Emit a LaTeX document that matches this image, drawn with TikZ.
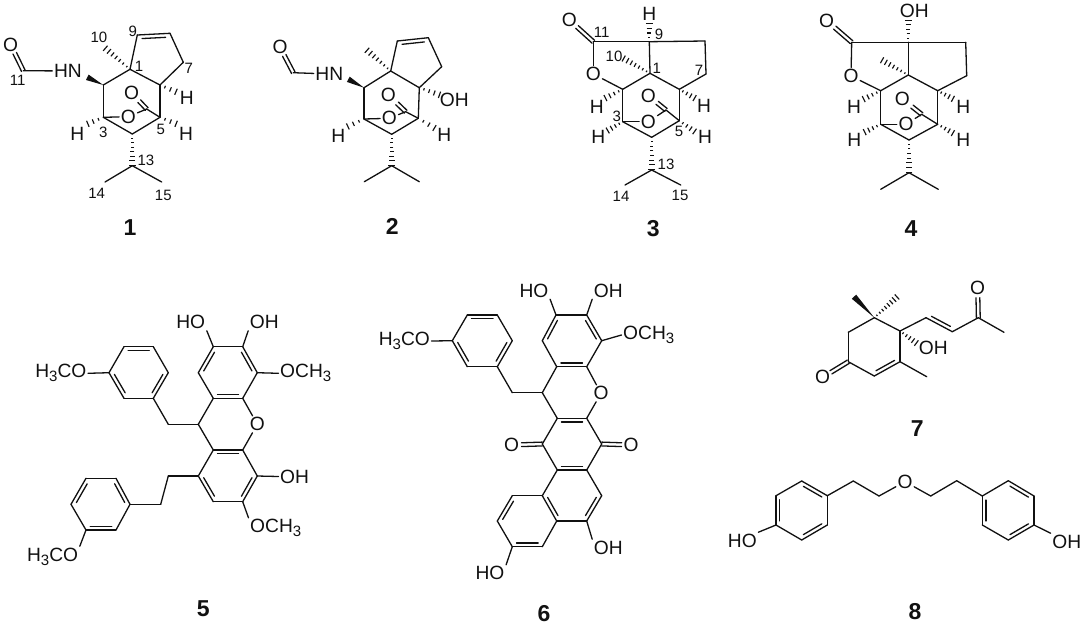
\documentclass[tikz,border=0pt]{standalone}
\usepackage{fontspec}
\setmainfont{Liberation Sans}
\usetikzlibrary{calc}
\definecolor{ink}{HTML}{111111}
\tikzset{
  bond/.style={draw=ink,line width=1.3pt,line cap=round,line join=round},
  tick/.style={draw=ink,line width=1.15pt},
  atom/.style={font=\fontsize{19.2}{21}\selectfont,text=ink,inner sep=1.5pt},
  numlab/.style={font=\fontsize{15}{17}\selectfont,text=ink,inner sep=0pt},
  cpd/.style={font=\bfseries\fontsize{23}{25}\selectfont,text=ink,inner sep=0pt}
}
\newcommand\Cc[3]{\coordinate (#1) at (#2,#3);}
\newcommand\Bd[2]{\draw[bond] (#1) -- (#2);}
\newcommand\Db[3][-90]{\draw[bond] (#2) -- (#3);
  \draw[bond] ($(#2)!.14!(#3)!3.8pt!#1:(#3)$) -- ($(#2)!.86!(#3)!3.8pt!#1:(#3)$);}
\newcommand\Dc[3][.68]{\draw[bond] ($(#2)!0!(#3)!1.9pt!90:(#3)$) -- ($(#2)!#1!(#3)!1.9pt!90:(#3)$);
  \draw[bond] ($(#2)!0!(#3)!1.9pt!-90:(#3)$) -- ($(#2)!#1!(#3)!1.9pt!-90:(#3)$);}
\newcommand\Hs[3]{\foreach \i in {1,...,#3}{
  \pgfmathsetmacro\tt{(\i-0.1)/#3}\pgfmathsetmacro\ww{0.5+2.9*\tt}
  \draw[tick] ($(#1)!\tt!(#2)!\ww pt!90:(#2)$) -- ($(#1)!\tt!(#2)!\ww pt!-90:(#2)$);}}
\newcommand\Wd[2]{\fill[ink] (#1) -- ($(#2)!3pt!90:(#1)$) -- ($(#2)!3pt!-90:(#1)$) -- cycle;}
\newcommand\lowthree{\raisebox{-4pt}{\fontsize{15}{16}\selectfont 3}}
\newcommand\At[4]{\node[atom] (#1) at (#2,#3) {#4};}
\newcommand\Nb[4]{\node[numlab] (#1) at (#2,#3) {#4};}
\newcommand\Lb[4]{\node[cpd] (#1) at (#2,#3) {#4};}
\begin{document}
\begin{tikzpicture}[x=1pt,y=-1pt]
\useasboundingbox (0,0) rectangle (1084,625);
\fill[white] (0,0) rectangle (1084,625);
% ---------- 1
\At{ao}{10.7}{45}{O}\Cc{acf}{23.3}{70.7}\At{ahn}{68}{71}{HN}
\Cc{ac1}{130}{69.3}\Cc{ac2}{103.3}{85}\Cc{ac3}{103.3}{117.3}\Cc{ac4}{132.3}{134}
\Cc{ac5}{160}{117.3}\Cc{ac6}{160}{85}\Cc{ac7}{183.3}{62.3}\Cc{ac8}{170}{33.3}\Cc{ac9}{137.3}{35}
\At{aor}{128.3}{116.7}{O}\At{aoc}{131.7}{93.3}{O}\Cc{acc}{146.7}{109}
\Cc{anw}{87.3}{77.3}\Cc{ame}{105}{48}\Cc{ac13}{132.3}{165.7}\Cc{ac14}{105}{182}\Cc{ac15}{161.7}{182}
\Cc{ah6}{176.5}{92}\Cc{ah5}{176.7}{124}\Cc{ah3}{87.3}{124}
\At{ahr}{186.7}{98}{H}\At{ahs}{186}{133.5}{H}\At{ahl}{77.3}{134}{H}
\Dc{acf}{ao}\Bd{acf}{ahn}\Wd{ac2}{anw}\Bd{ac2}{ac1}\Bd{ac1}{ac9}\Db{ac9}{ac8}\Bd{ac8}{ac7}\Bd{ac7}{ac6}
\Bd{ac6}{ac1}\Bd{ac6}{ac5}\Bd{ac5}{ac4}\Bd{ac4}{ac3}\Bd{ac3}{ac2}\Bd{ac3}{aor}\Bd{aor}{acc}\Dc[.5]{acc}{aoc}\Bd{acc}{ac5}
\Hs{ac1}{ame}{7}\Hs{ac6}{ah6}{3}\Hs{ac5}{ah5}{3}\Hs{ac3}{ah3}{3}\Hs{ac4}{ac13}{7}\Bd{ac13}{ac14}\Bd{ac13}{ac15}
\Nb{al10}{99}{37}{10}\Nb{al9}{132.7}{31}{9}\Nb{al1}{139}{66.7}{1}\Nb{al7}{188.7}{68.3}{7}\Nb{al3}{103.3}{132}{3}\Nb{al5}{160.7}{129.3}{5}
\Nb{al13}{146}{160}{13}\Nb{al14}{96.7}{193.3}{14}\Nb{al15}{163.3}{195}{15}\Nb{al11}{17.7}{80}{11}
\Lb{acp}{130}{228}{1}
% ---------- 2
\At{bo}{280}{47.3}{O}\Cc{bcf}{293.3}{72.7}\At{bhn}{329.3}{74}{HN}
\Cc{bc1}{390.7}{71}\Cc{bc2}{364}{87.7}\Cc{bc3}{364}{119}\Cc{bc4}{391.7}{134.3}
\Cc{bc5}{418.3}{118.3}\Cc{bc6}{419.3}{87.7}\Cc{bc7}{441.7}{66.7}\Cc{bc8}{428.3}{37.7}\Cc{bc9}{397.3}{41}
\At{bor}{389.3}{118.3}{O}\At{boc}{388.3}{95}{O}\Cc{bcc}{405.7}{111.7}
\Cc{bnw}{348.3}{79.3}\Cc{bme}{366.7}{50}\Cc{bc13}{391.7}{165.7}\Cc{bc14}{364.3}{181.7}\Cc{bc15}{419.3}{181.7}
\Cc{bh6}{440}{95}\Cc{bh5}{435}{128.3}\Cc{bh3}{347.3}{126.7}
\At{boh}{454.3}{100}{OH}\At{bhs}{444.3}{135}{H}\At{bhl}{338.3}{136}{H}
\Dc{bcf}{bo}\Bd{bcf}{bhn}\Wd{bc2}{bnw}\Bd{bc2}{bc1}\Bd{bc1}{bc9}\Db{bc9}{bc8}\Bd{bc8}{bc7}\Bd{bc7}{bc6}
\Bd{bc6}{bc1}\Bd{bc6}{bc5}\Bd{bc5}{bc4}\Bd{bc4}{bc3}\Bd{bc3}{bc2}\Bd{bc3}{bor}\Bd{bor}{bcc}\Dc[.5]{bcc}{boc}\Bd{bcc}{bc5}
\Hs{bc1}{bme}{7}\Hs{bc6}{bh6}{4}\Hs{bc5}{bh5}{3}\Hs{bc3}{bh3}{3}\Hs{bc4}{bc13}{7}\Bd{bc13}{bc14}\Bd{bc13}{bc15}
\Lb{bcp}{392.3}{226.7}{2}
% ---------- 3
\At{co}{569.3}{20}{O}\Cc{ccf}{593.3}{41.7}\Cc{cc9}{649.3}{41.7}\Cc{cc8}{705}{41}\Cc{cc7}{706}{74}
\Cc{cc6}{679.3}{89.3}\Cc{cc5}{679.3}{120.7}\Cc{cc4}{651.7}{137.3}\Cc{cc3}{622.7}{121.7}\Cc{cc2}{622.7}{89.3}\Cc{cc1}{650}{73.3}
\At{cos}{593.3}{74}{O}\At{cor}{648.3}{121.7}{O}\At{coc}{648.3}{95.7}{O}\Cc{ccc}{666}{110}
\Cc{chu}{649.3}{23.3}\Cc{cme}{623.3}{58.3}\Cc{ch2}{605}{98.3}\Cc{ch3}{607.3}{130.7}\Cc{ch6}{695}{98.3}\Cc{ch5}{695}{131.7}
\Cc{cc13}{651.7}{170}\Cc{cc14}{625}{185}\Cc{cc15}{680.7}{185}
\At{cht}{649.3}{14}{H}\At{chb}{596.7}{106.7}{H}\At{chc}{598.3}{137.3}{H}\At{chr}{704}{106}{H}\At{chs}{705}{137.3}{H}
\Dc{ccf}{co}\Bd{ccf}{cc9}\Bd{cc9}{cc8}\Bd{cc8}{cc7}\Bd{cc7}{cc6}\Bd{cc6}{cc1}\Bd{cc1}{cc9}\Bd{cc1}{cc2}\Bd{cc2}{cc3}\Bd{cc3}{cc4}\Bd{cc4}{cc5}\Bd{cc5}{cc6}
\Bd{ccf}{cos}\Bd{cos}{cc2}\Bd{cc3}{cor}\Bd{cor}{ccc}\Dc[.5]{ccc}{coc}\Bd{ccc}{cc5}
\Hs{cc9}{chu}{4}\Hs{cc1}{cme}{7}\Hs{cc2}{ch2}{4}\Hs{cc3}{ch3}{4}\Hs{cc6}{ch6}{4}\Hs{cc5}{ch5}{4}\Hs{cc4}{cc13}{7}\Bd{cc13}{cc14}\Bd{cc13}{cc15}
\Nb{cl9}{659}{34.3}{9}\Nb{cl11}{601.7}{32.3}{11}\Nb{cl10}{614}{56.7}{10}\Nb{cl1}{656.7}{68.3}{1}\Nb{cl7}{699}{70.7}{7}\Nb{cl3}{616.7}{116.7}{3}\Nb{cl5}{679}{131.7}{5}
\Nb{cl13}{666}{164.3}{13}\Nb{cl14}{621}{196.7}{14}\Nb{cl15}{680}{195}{15}
\Lb{ccp}{653.3}{228.3}{3}
% ---------- 4
\At{do}{826.7}{20.7}{O}\Cc{dcf}{851.7}{42.3}\Cc{dc9}{908.3}{42.3}\Cc{dc8}{965.7}{42.3}\Cc{dc7}{966.7}{75.7}
\Cc{dc6}{937.7}{90.7}\Cc{dc5}{937.7}{124.3}\Cc{dc4}{909}{140}\Cc{dc3}{880.7}{124.3}\Cc{dc2}{880.7}{90.7}\Cc{dc1}{908.3}{75}
\At{dos}{851}{76}{O}\At{dor}{906}{124.3}{O}\At{doc}{902.3}{99}{O}\Cc{dcc}{921.7}{114.3}
\Cc{dhu}{908.3}{20}\Cc{dme}{881.7}{60}\Cc{dh2}{863.3}{99.3}\Cc{dh3}{864.3}{132.3}\Cc{dh6}{953.3}{99}\Cc{dh5}{953.3}{133.3}
\Cc{dc13}{909}{172.7}\Cc{dc14}{880.7}{189.3}\Cc{dc15}{938.3}{189.3}
\At{doh}{914.3}{11}{OH}\At{dhb}{854}{107.3}{H}\At{dhc}{854.3}{140}{H}\At{dhr}{963.3}{107.3}{H}\At{dhs}{963.3}{140}{H}
\Dc{dcf}{do}\Bd{dcf}{dc9}\Bd{dc9}{dc8}\Bd{dc8}{dc7}\Bd{dc7}{dc6}\Bd{dc6}{dc1}\Bd{dc1}{dc9}\Bd{dc1}{dc2}\Bd{dc2}{dc3}\Bd{dc3}{dc4}\Bd{dc4}{dc5}\Bd{dc5}{dc6}
\Bd{dcf}{dos}\Bd{dos}{dc2}\Bd{dc3}{dor}\Bd{dor}{dcc}\Dc[.5]{dcc}{doc}\Bd{dcc}{dc5}
\Hs{dc9}{dhu}{5}\Hs{dc1}{dme}{7}\Hs{dc2}{dh2}{4}\Hs{dc3}{dh3}{4}\Hs{dc6}{dh6}{4}\Hs{dc5}{dh5}{4}\Hs{dc4}{dc13}{7}\Bd{dc13}{dc14}\Bd{dc13}{dc15}
\Lb{dcp}{911}{228.3}{4}
% ---------- 5
\Cc{ea}{213.3}{346.7}\Cc{eb}{242.7}{346.7}\Cc{ec}{257.3}{372.7}\Cc{ed}{242.7}{398.3}\Cc{ee}{213.3}{398.3}\Cc{ef}{198.3}{372.7}
\At{eo}{257.3}{424.3}{O}\Cc{ex}{198.3}{424.3}
\Cc{eg}{213.3}{450}\Cc{eh}{242.7}{450}\Cc{ei}{257.3}{476}\Cc{ej}{242.7}{501.7}\Cc{ek}{213.3}{501.7}\Cc{el}{198.3}{476}
\At{eho}{190.7}{322.3}{HO}\At{eoh}{264.3}{322.3}{OH}
\node[atom,anchor=west] (eme1) at (278.5,373.3) {OCH\lowthree};
\node[atom,anchor=west] (eoh2) at (278.5,476.5) {OH};
\node[atom,anchor=west] (eme2) at (248.5,528.3) {OCH\lowthree};
\Cc{ep1}{124}{346.7}\Cc{ep2}{153.3}{346.7}\Cc{ep3}{168.3}{372.7}\Cc{ep4}{153.3}{398.3}\Cc{ep5}{124}{398.3}\Cc{ep6}{109}{372.7}\Cc{ech}{168.3}{424.3}
\node[atom,anchor=east] (eme3) at (88,373.3) {H\lowthree CO};
\Cc{es1}{168.3}{476}\Cc{es2}{160.7}{504.3}
\Cc{eq1}{130}{504.3}\Cc{eq2}{116}{478.3}\Cc{eq3}{86}{478.3}\Cc{eq4}{71}{504.3}\Cc{eq5}{86}{530}\Cc{eq6}{116}{530}
\node[atom,anchor=east] (eme4) at (79.8,556.7) {H\lowthree CO};
\Db{ef}{ea}\Bd{ea}{eb}\Db{eb}{ec}\Bd{ec}{ed}\Db{ed}{ee}\Bd{ee}{ef}
\Db{eg}{eh}\Bd{eh}{ei}\Db{ei}{ej}\Bd{ej}{ek}\Db{ek}{el}\Bd{el}{eg}
\Bd{ed}{eo}\Bd{eo}{eh}\Bd{ee}{ex}\Bd{ex}{eg}\Bd{ex}{ech}\Bd{ech}{ep4}
\Bd{ea}{eho.south east}\Bd{eb}{eoh.south west}\Bd{ec}{eme1.west}\Bd{ei}{eoh2.west}\Bd{ej}{eme2.north west}
\Db{ep1}{ep2}\Bd{ep2}{ep3}\Db{ep3}{ep4}\Bd{ep4}{ep5}\Db{ep5}{ep6}\Bd{ep6}{ep1}\Bd{ep6}{eme3.east}
\Bd{el}{es1}\Bd{es1}{es2}\Bd{es2}{eq1}
\Bd{eq1}{eq6}\Db{eq6}{eq5}\Bd{eq5}{eq4}\Db{eq4}{eq3}\Bd{eq3}{eq2}\Db{eq2}{eq1}\Bd{eq5}{eme4.north east}
\Lb{ecp}{203.3}{608.3}{5}
% ---------- 6
\Cc{fa}{556}{315}\Cc{fb}{586.7}{315}\Cc{fc}{601.7}{340.7}\Cc{fd}{586.7}{366.7}\Cc{fe}{556.7}{366.7}\Cc{ff}{542.3}{340.7}
\At{fo}{601}{393.3}{O}\Cc{fx}{542.3}{392.7}
\Cc{fg}{557.3}{418.3}\Cc{fh}{586.7}{418.3}\Cc{fi}{601.7}{444}\Cc{fj}{586.7}{470}\Cc{fk}{557.3}{470}\Cc{fl}{542.3}{444}
\At{fol}{511.7}{445}{O}\At{foi}{631}{445}{O}
\Cc{fm}{601.7}{495.7}\Cc{fn}{586.7}{521}\Cc{fp}{556.7}{521}\Cc{fq}{542.3}{495.7}
\Cc{fr}{512.3}{495.7}\Cc{fs}{497.3}{521}\Cc{ft}{512.3}{546.7}\Cc{fu}{542.3}{546.7}
\At{foh3}{608.3}{547.7}{OH}\At{foh4}{490}{573.3}{HO}\At{fho}{534}{290.7}{HO}\At{foh}{608.3}{290.7}{OH}
\node[atom,anchor=west] (fme1) at (621.5,335) {OCH\lowthree};
\Cc{fp1}{467.3}{315}\Cc{fp2}{497.3}{315}\Cc{fp3}{512.3}{340.7}\Cc{fp4}{497.3}{366.7}\Cc{fp5}{467.3}{366.7}\Cc{fp6}{452.3}{340.7}\Cc{fch}{512.3}{392.7}
\node[atom,anchor=east] (fme2) at (431.5,341) {H\lowthree CO};
\Db{ff}{fa}\Bd{fa}{fb}\Db{fb}{fc}\Bd{fc}{fd}\Db{fd}{fe}\Bd{fe}{ff}
\Db{fg}{fh}\Bd{fh}{fi}\Bd{fi}{fj}\Db{fj}{fk}\Bd{fk}{fl}\Bd{fl}{fg}
\Bd{fd}{fo}\Bd{fo}{fh}\Bd{fe}{fx}\Bd{fx}{fg}\Bd{fx}{fch}\Bd{fch}{fp4}
\Dc{fl}{fol}\Dc{fi}{foi}
\Bd{fj}{fm}\Db{fm}{fn}\Bd{fn}{fp}\Db{fp}{fq}\Bd{fq}{fk}
\Bd{fq}{fr}\Db{fs}{fr}\Bd{fs}{ft}\Db{fu}{ft}\Bd{fu}{fp}
\Bd{fn}{foh3.north west}\Bd{ft}{foh4.north east}\Bd{fa}{fho.south east}\Bd{fb}{foh.south west}\Bd{fc}{fme1.west}
\Db{fp1}{fp2}\Bd{fp2}{fp3}\Db{fp3}{fp4}\Bd{fp4}{fp5}\Db{fp5}{fp6}\Bd{fp6}{fp1}\Bd{fp6}{fme2.east}
\Lb{fcp}{544}{613.3}{6}
% ---------- 7
\Cc{g6}{874.3}{317.7}\Cc{g5}{848.3}{332.3}\Cc{g4}{848.3}{361.7}\Cc{g3}{874.3}{376}\Cc{g2}{900}{361.7}\Cc{g1}{900}{331}
\At{go}{822.7}{377.3}{O}\Cc{gm}{926.7}{376.7}\At{goh}{933.3}{348.3}{OH}\Cc{gh}{916.7}{343.3}
\Cc{gw}{854}{296.7}\Cc{gd}{897.3}{296.7}\Cc{gv1}{926}{317.7}\Cc{gv2}{952.3}{331.7}\Cc{gv3}{978.3}{317.7}
\At{go2}{977.7}{288.3}{O}\Cc{gm2}{1004}{332.3}
\Bd{g6}{g5}\Bd{g5}{g4}\Bd{g4}{g3}\Db[90]{g3}{g2}\Bd{g2}{g1}\Bd{g1}{g6}\Dc{g4}{go}\Bd{g2}{gm}
\Hs{g1}{gh}{5}\Wd{g6}{gw}\Hs{g6}{gd}{8}\Bd{g1}{gv1}\Db[90]{gv1}{gv2}\Bd{gv2}{gv3}\Dc{gv3}{go2}\Bd{gv3}{gm2}
\Lb{gcp}{917.3}{429}{7}
% ---------- 8
\Cc{ha1}{827.3}{495.7}\Cc{ha2}{801.7}{481}\Cc{ha3}{776}{495.7}\Cc{ha4}{776}{525}\Cc{ha5}{801.7}{540}\Cc{ha6}{827.3}{525}
\At{hho}{742.3}{540.7}{HO}\Cc{hs1}{853.3}{481}\Cc{hs2}{879}{496}\At{ho}{905}{481.7}{O}\Cc{hs3}{930.7}{496}\Cc{hs4}{956.7}{480.7}
\Cc{hb1}{982.3}{496}\Cc{hb2}{1008.3}{480.7}\Cc{hb3}{1034}{496}\Cc{hb4}{1034}{525}\Cc{hb5}{1008.3}{540}\Cc{hb6}{982.3}{525}
\At{hoh}{1066.7}{541.7}{OH}
\Db{ha2}{ha1}\Bd{ha1}{ha6}\Db{ha6}{ha5}\Bd{ha5}{ha4}\Db{ha4}{ha3}\Bd{ha3}{ha2}
\Bd{ha4}{hho.north east}\Bd{ha1}{hs1}\Bd{hs1}{hs2}\Bd{hs2}{ho}\Bd{ho}{hs3}\Bd{hs3}{hs4}\Bd{hs4}{hb1}
\Bd{hb1}{hb2}\Db{hb2}{hb3}\Bd{hb3}{hb4}\Db{hb4}{hb5}\Bd{hb5}{hb6}\Db{hb6}{hb1}\Bd{hb4}{hoh.north west}
\Lb{hcp}{915}{611.7}{8}
\end{tikzpicture}
\end{document}
